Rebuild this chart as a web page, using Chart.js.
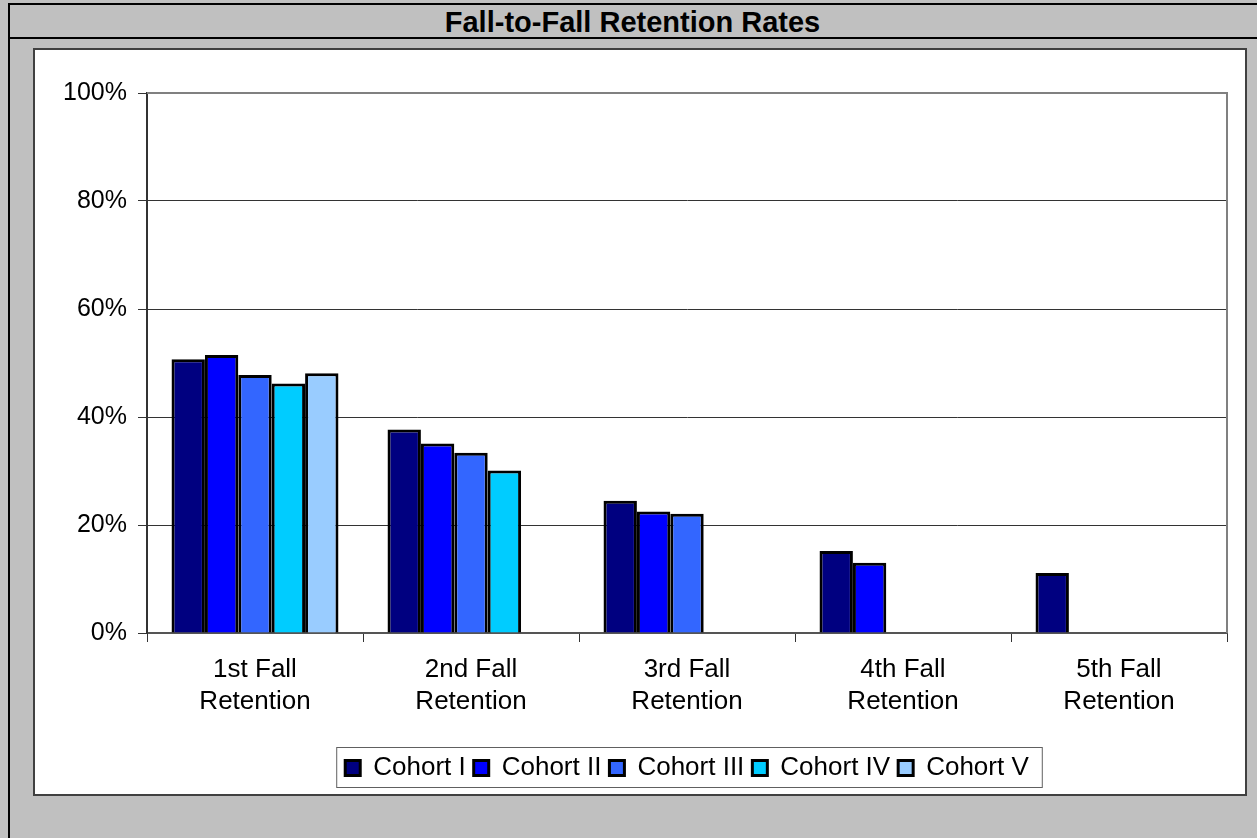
<!DOCTYPE html>
<html>
<head>
<meta charset="utf-8">
<script src="https://cdn.jsdelivr.net/npm/chart.js@4"></script>
<style>
    html, body { margin: 0; padding: 0; overflow: hidden; }
    body {
        width: 1257px; height: 838px;
        background: #c0c0c0; position: relative;
        font-family: 'Liberation Sans', Arial, sans-serif;
    }
    #frame {
        position: absolute; left: 8px; top: 3px; width: 1249px; height: 835px;
        border-left: 2px solid #000; border-top: 2px solid #000; box-sizing: border-box;
    }
    #titleBar {
        position: absolute; left: 10px; top: 5px; width: 1247px; height: 32px;
        border-bottom: 2px solid #000;
        text-align: center; font-weight: bold; font-size: 29px; line-height: 34px; color: #000;
    }
    #titleBar span { position: relative; left: -1px; }
    #panel {
        position: absolute; left: 33px; top: 48px; width: 1210px; height: 744px;
        background: #fff; border: 2px solid #404040;
    }
    #chartCanvas { position: absolute; left: 35px; top: 50px; z-index: 2; }
</style>
</head>
<body>
<div id="frame"></div>
<div id="titleBar"><span>Fall-to-Fall Retention Rates</span></div>
<div id="panel"></div>
<canvas id="chartCanvas" width="1210" height="788"></canvas>
<script>
// data
const categories = [
    ['1st Fall', 'Retention'],
    ['2nd Fall', 'Retention'],
    ['3rd Fall', 'Retention'],
    ['4th Fall', 'Retention'],
    ['5th Fall', 'Retention']
];
const cohortNames = ['Cohort I', 'Cohort II', 'Cohort III', 'Cohort IV', 'Cohort V'];
const cohortI   = [50.7, 37.7, 24.5, 15.2, 11.1];
const cohortII  = [51.5, 35.1, 22.5, 13.0, null];
const cohortIII = [47.8, 33.4, 22.1, null, null];
const cohortIV  = [46.2, 30.1, null, null, null];
const cohortV   = [48.1, null, null, null, null];
const yTicks = [0, 20, 40, 60, 80, 100];

const cohortColors = ['#000080', '#0000ff', '#3366ff', '#00ccff', '#99ccff'];
const seriesValues = [cohortI, cohortII, cohortIII, cohortIV, cohortV];

Chart.defaults.font.family = "'Liberation Sans', Arial, sans-serif";
Chart.defaults.color = '#000';

// grey border on top and right of the plot, box round the legend
const framePlugin = {
    id: 'framePlugin',
    afterDraw(chart) {
        const ctx = chart.ctx;
        const a = chart.chartArea;
        ctx.save();
        ctx.strokeStyle = '#808080';
        ctx.lineWidth = 2;
        ctx.beginPath();
        ctx.moveTo(a.left, a.top);
        ctx.lineTo(a.right, a.top);
        ctx.lineTo(a.right, a.bottom);
        ctx.stroke();

        const boxes = chart.legend.legendHitBoxes;
        if (boxes && boxes.length) {
            const first = boxes[0];
            const last = boxes[boxes.length - 1];
            const cy = first.top + first.height / 2;
            ctx.strokeStyle = '#606060';
            ctx.lineWidth = 1;
            ctx.strokeRect(first.left - 8.5, cy - 20.5, last.left + last.width - first.left + 22, 40);
        }
        ctx.restore();
    }
};

new Chart(document.getElementById('chartCanvas').getContext('2d'), {
    type: 'bar',
    data: {
        labels: categories,
        datasets: cohortNames.map((name, i) => ({
            label: name,
            data: seriesValues[i],
            backgroundColor: cohortColors[i],
            borderColor: '#000',
            borderWidth: 3,
            categoryPercentage: 0.773,
            barPercentage: 1.0
        }))
    },
    options: {
        responsive: false,
        animation: false,
        devicePixelRatio: 1,
        layout: { padding: { top: 43, right: 18, left: 0, bottom: 47 } },
        scales: {
            x: {
                afterFit: (scale) => { scale.height = 114; },
                grid: { offset: true, drawOnChartArea: false, drawTicks: true, tickLength: 9, color: '#333' },
                border: { color: '#555', width: 2 },
                ticks: { font: { size: 26, lineHeight: 1.23 }, padding: 12, maxRotation: 0, autoSkip: false }
            },
            y: {
                min: 0, max: 100,
                afterFit: (scale) => { scale.width = 112; },
                afterBuildTicks: (scale) => { scale.ticks = yTicks.map(v => ({ value: v })); },
                grid: {
                    color: (c) => c.tick && c.tick.value === 100 ? '#808080' : '#333',
                    tickColor: '#333',
                    tickLength: 9,
                    lineWidth: 1
                },
                border: { color: '#333', width: 2 },
                ticks: { font: { size: 25 }, padding: 11, callback: (v) => v + '%' }
            }
        },
        plugins: {
            legend: {
                position: 'bottom',
                fullSize: false,
                labels: { font: { size: 26 }, boxWidth: 15, boxHeight: 15, padding: 8 }
            },
            tooltip: { enabled: false }
        }
    },
    plugins: [framePlugin]
});
</script>
</body>
</html>
